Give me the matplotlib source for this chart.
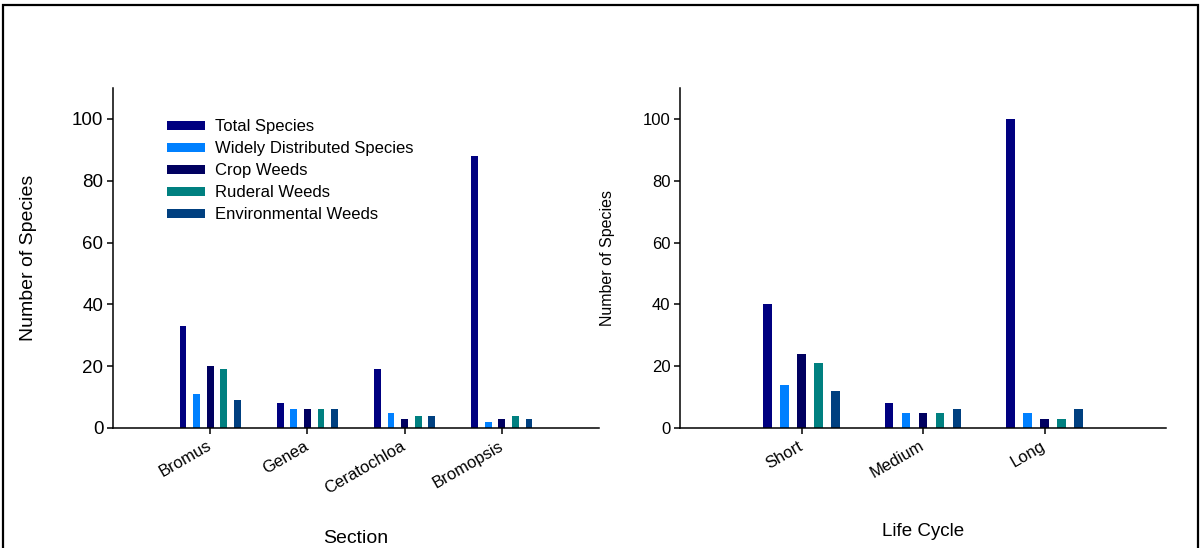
import matplotlib
matplotlib.use("Agg")
import matplotlib.pyplot as plt
from matplotlib.patches import Rectangle
import numpy as np

plt.rcParams['font.family'] = ['Liberation Sans', 'DejaVu Sans']

series_names = ["Total Species", "Widely Distributed Species", "Crop Weeds",
                "Ruderal Weeds", "Environmental Weeds"]
series_colors = ["#000080", "#0080FF", "#000060", "#008080", "#004080"]

sections = ["Bromus", "Genea", "Ceratochloa", "Bromopsis"]
section_total = [33, 8, 19, 88]
section_widely = [11, 6, 5, 2]
section_crop = [20, 6, 3, 3]
section_ruderal = [19, 6, 4, 4]
section_environmental = [9, 6, 4, 3]

life_cycles = ["Short", "Medium", "Long"]
life_total = [40, 8, 100]
life_widely = [14, 5, 5]
life_crop = [24, 5, 3]
life_ruderal = [21, 5, 3]
life_environmental = [12, 6, 6]

yticks = [0, 20, 40, 60, 80, 100]

fig = plt.figure(figsize=(12.02, 5.48), dpi=100)

ax1 = fig.add_axes([113/1202, 1-428/548, (599-113)/1202, (428-88)/548])
ax2 = fig.add_axes([680/1202, 1-428/548, (1166-680)/1202, (428-88)/548])

step = 0.14
width = 0.07


def draw_panel(ax, cats, groups, tick_fs, xlabel, xlabel_fs, xlabel_pad,
               ylabel_fs, ylabel_pad, xtick_fs):
    x = np.arange(len(cats))
    for i, (vals, name, col) in enumerate(zip(groups, series_names, series_colors)):
        ax.bar(x + (i - 2) * step, vals, width=width, color=col, label=name,
               linewidth=0)
    ax.set_xlim(-1, len(cats))
    ax.set_ylim(0, 110)
    ax.set_yticks(yticks)
    ax.set_xticks(x)
    ax.set_xticklabels(cats, rotation=30, ha='right', va='center',
                       rotation_mode='anchor', fontsize=xtick_fs)
    ax.tick_params(axis='y', labelsize=tick_fs, length=4, width=1.1, pad=3)
    ax.tick_params(axis='x', length=4, width=1.1, pad=8)
    for side in ('top', 'right'):
        ax.spines[side].set_visible(False)
    for side in ('left', 'bottom'):
        ax.spines[side].set_linewidth(1.1)
    ax.set_xlabel(xlabel, fontsize=xlabel_fs, labelpad=xlabel_pad)
    ax.set_ylabel("Number of Species", fontsize=ylabel_fs, labelpad=ylabel_pad)


draw_panel(ax1, sections,
           [section_total, section_widely, section_crop, section_ruderal,
            section_environmental],
           tick_fs=13.5, xlabel="Section", xlabel_fs=14, xlabel_pad=24,
           ylabel_fs=14, ylabel_pad=25, xtick_fs=12)
draw_panel(ax2, life_cycles,
           [life_total, life_widely, life_crop, life_ruderal, life_environmental],
           tick_fs=12, xlabel="Life Cycle", xlabel_fs=13.5, xlabel_pad=30,
           ylabel_fs=11.5, ylabel_pad=20, xtick_fs=12)

ax1.legend(loc='upper left', bbox_to_anchor=(54/486, 1-31/340), frameon=False,
           fontsize=12, handlelength=2.3, handleheight=0.45,
           labelspacing=0.42, handletextpad=0.6, borderpad=0, borderaxespad=0)

fig.patches.append(Rectangle((3/1202, -0.02), 1195/1202, 1.02 - 5/548,
                             transform=fig.transFigure, fill=False,
                             edgecolor='black', linewidth=1.6))

fig.savefig("out.png", dpi=100)
